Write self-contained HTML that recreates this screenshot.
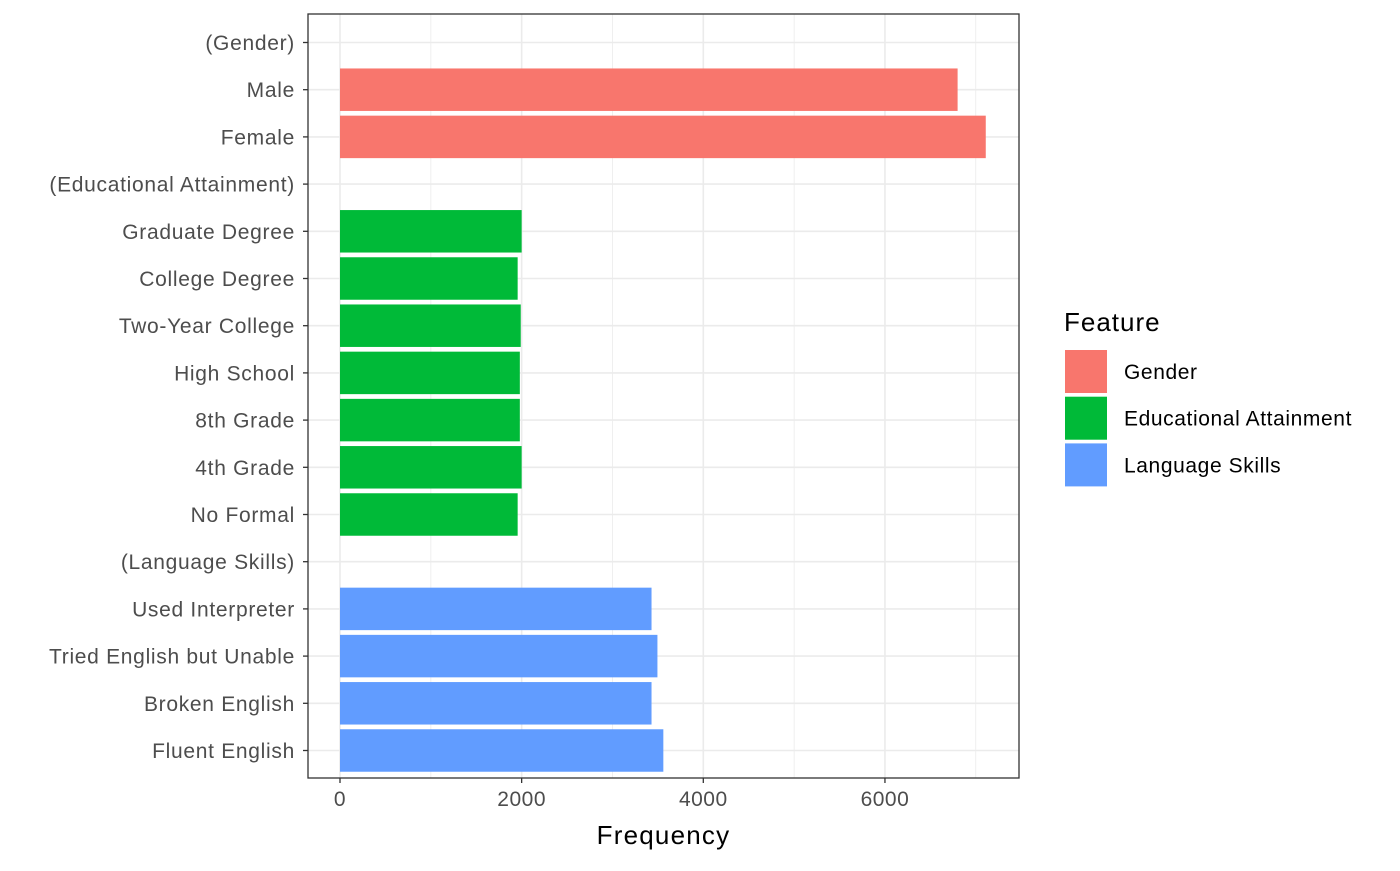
<!DOCTYPE html>
<html><head><meta charset="utf-8">
<style>
body{margin:0;background:#fff;}
svg text{font-family:"Liberation Sans",Arial,sans-serif;}
</style></head>
<body>
<svg id="chart" width="1400" height="866" xmlns="http://www.w3.org/2000/svg"></svg>
<script>
const categories=["(Gender)","Male","Female","(Educational Attainment)","Graduate Degree","College Degree","Two-Year College","High School","8th Grade","4th Grade","No Formal","(Language Skills)","Used Interpreter","Tried English but Unable","Broken English","Fluent English"];
const values=[0,6800,7110,0,2000,1956,1990,1980,1980,2000,1956,0,3430,3495,3430,3560];
const groups=["Gender","Gender","Gender","Educational Attainment","Educational Attainment","Educational Attainment","Educational Attainment","Educational Attainment","Educational Attainment","Educational Attainment","Educational Attainment","Language Skills","Language Skills","Language Skills","Language Skills","Language Skills"];
const legendLabels=["Gender","Educational Attainment","Language Skills"];
const xTicks=[0,2000,4000,6000];
const xMinor=[1000,3000,5000,7000];
const colors={"Gender":"#F8766D","Educational Attainment":"#00BA38","Language Skills":"#619CFF"};

const svg=document.getElementById('chart');
const NS="http://www.w3.org/2000/svg";
const L=308,R=1019,T=14,B=778;
const x0=340,pxPer=(703.3-340)/4000;
const X=v=>x0+v*pxPer;
const step=47.2;
const Y=i=>42.5+i*step;
function mk(tag,attrs,name,parent){const e=document.createElementNS(NS,tag);for(const k in attrs)e.setAttribute(k,attrs[k]);


(parent||svg).appendChild(e);return e;}
mk('rect',{x:L,y:T,width:R-L,height:B-T,fill:'#fff'},'plot-panel');
xMinor.forEach(v=>{if(X(v)<R)mk('line',{x1:X(v),x2:X(v),y1:T,y2:B,stroke:'#EBEBEB','stroke-width':0.8},'x-minor-gridline');});
xTicks.forEach(v=>mk('line',{x1:X(v),x2:X(v),y1:T,y2:B,stroke:'#EBEBEB','stroke-width':1.6},'x-major-gridline'));
categories.forEach((c,i)=>mk('line',{x1:L,x2:R,y1:Y(i),y2:Y(i),stroke:'#EBEBEB','stroke-width':1.6},'y-gridline'));
const bh=step*0.9;
categories.forEach((c,i)=>{if(values[i]>0){
mk('rect',{x:X(0),y:Y(i)-bh/2,width:X(values[i])-X(0),height:bh,fill:colors[groups[i]]},'bar-'+c.toLowerCase().replace(/[^a-z0-9]+/g,'-'));}});
mk('rect',{x:L,y:T,width:R-L,height:B-T,fill:'none',stroke:'#333','stroke-width':1.3},'panel-border');
categories.forEach((c,i)=>{
mk('line',{x1:L-5,x2:L,y1:Y(i),y2:Y(i),stroke:'#333','stroke-width':1.3},'y-tick');
const t=mk('text',{x:L-13,y:Y(i)+7.5,'text-anchor':'end','font-size':21,'letter-spacing':0.7,fill:'#4D4D4D'},'y-tick-label');t.textContent=c;});
xTicks.forEach(v=>{
mk('line',{x1:X(v),x2:X(v),y1:B,y2:B+5,stroke:'#333','stroke-width':1.3},'x-tick');
const t=mk('text',{x:X(v),y:B+28,'text-anchor':'middle','font-size':21,'letter-spacing':0.5,fill:'#4D4D4D'},'x-tick-label');t.textContent=v;});
const xt=mk('text',{x:(L+R)/2,y:844,'text-anchor':'middle','font-size':26,'letter-spacing':1.2,fill:'#000'},'x-axis-title');xt.textContent='Frequency';
const lt=mk('text',{x:1064,y:331,'font-size':26,'letter-spacing':1,fill:'#000'},'legend-title');lt.textContent='Feature';
legendLabels.forEach((g,i)=>{
const y=350+i*46.7;
mk('rect',{x:1065,y:y,width:42,height:43,fill:colors[g]},'legend-key');
const t=mk('text',{x:1124,y:y+29,'font-size':21,'letter-spacing':0.6,fill:'#000'},'legend-entry');t.textContent=g;});
</script>
</body></html>
